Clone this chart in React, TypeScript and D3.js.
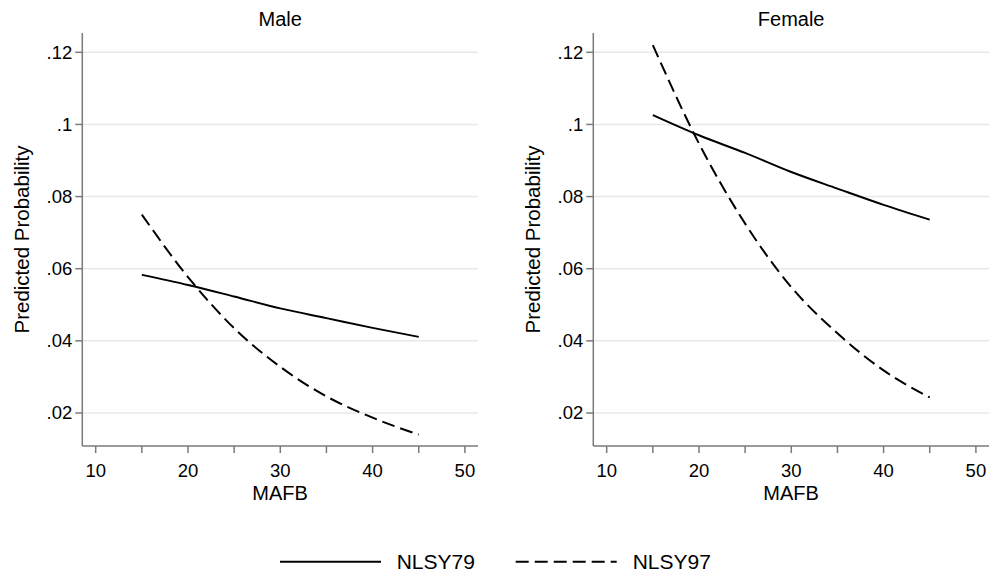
import React from "react";
import * as d3 from "d3";

const ages = [15, 20, 25, 30, 35, 40, 45];

const maleNLSY79 = [0.0583, 0.0555, 0.0523, 0.049, 0.0463, 0.0436, 0.0411];
const maleNLSY97 = [0.075, 0.0577, 0.0435, 0.0328, 0.0246, 0.0187, 0.014];
const femaleNLSY79 = [0.1026, 0.097, 0.0921, 0.0868, 0.0822, 0.0777, 0.0736];
const femaleNLSY97 = [0.122, 0.0947, 0.0725, 0.0549, 0.0421, 0.0318, 0.0243];

const xTicks = [10, 20, 30, 40, 50];
const xMinorTicks = [15, 25, 35, 45];
const yTicks = [0.02, 0.04, 0.06, 0.08, 0.1, 0.12];
const yTickLabels = [".02", ".04", ".06", ".08", ".1", ".12"];

const panels = [
  { title: "Male", left: 82.3, s79: maleNLSY79, s97: maleNLSY97 },
  { title: "Female", left: 593.3, s79: femaleNLSY79, s97: femaleNLSY97 },
];

const FONT = "'Liberation Sans', Arial, Helvetica, sans-serif";
const top = 33;
const bottom = 446;
const plotW = 395.7;
const axisColor = "#7a7a7a";
const DASH = "13 6";

const y = d3.scaleLinear().domain([0.01085, 0.12535]).range([bottom, top]);

const Panel = ({ p }) => {
  const x = d3
    .scaleLinear()
    .domain([8.55, 51.42])
    .range([p.left, p.left + plotW]);
  const line = d3
    .line()
    .x((d) => x(d[0]))
    .y((d) => y(d[1]))
    .curve(d3.curveMonotoneX);
  const d79 = line(ages.map((a, i) => [a, p.s79[i]]));
  const d97 = line(ages.map((a, i) => [a, p.s97[i]]));
  const cx = p.left + plotW / 2;

  return (
    <g>
      {yTicks.map((t) => (
        <line
          key={"g" + t}
          x1={p.left}
          x2={p.left + plotW}
          y1={y(t)}
          y2={y(t)}
          stroke="#e8e8e8"
          strokeWidth={1.5}
        />
      ))}
      <path d={d79} fill="none" stroke="#000" strokeWidth={2} />
      <path
        d={d97}
        fill="none"
        stroke="#000"
        strokeWidth={2}
        strokeDasharray={DASH}
      />
      <line x1={p.left} x2={p.left} y1={top} y2={bottom} stroke={axisColor} strokeWidth={1.5} />
      <line x1={p.left} x2={p.left + plotW} y1={bottom} y2={bottom} stroke={axisColor} strokeWidth={1.5} />
      {yTicks.map((t, i) => (
        <g key={"y" + t}>
          <line x1={p.left - 7} x2={p.left} y1={y(t)} y2={y(t)} stroke={axisColor} strokeWidth={1.5} />
          <text
            x={p.left - 10}
            y={y(t)}
            dy="0.35em"
            textAnchor="end"
            fontSize={18.5}
            fontFamily={FONT}
          >
            {yTickLabels[i]}
          </text>
        </g>
      ))}
      {xMinorTicks.map((t) => (
        <line key={"m" + t} x1={x(t)} x2={x(t)} y1={bottom} y2={bottom + 7} stroke={axisColor} strokeWidth={1.5} />
      ))}
      {xTicks.map((t) => (
        <g key={"x" + t}>
          <line x1={x(t)} x2={x(t)} y1={bottom} y2={bottom + 7} stroke={axisColor} strokeWidth={1.5} />
          <text x={x(t)} y={477} textAnchor="middle" fontSize={18.5} fontFamily={FONT}>
            {t}
          </text>
        </g>
      ))}
      <text x={cx} y={500} textAnchor="middle" fontSize={20} fontFamily={FONT}>
        MAFB
      </text>
      <text x={cx} y={26} textAnchor="middle" fontSize={20} fontFamily={FONT}>
        {p.title}
      </text>
      <text
        transform={`translate(${p.left - 53},${(top + bottom) / 2}) rotate(-90)`}
        textAnchor="middle"
        fontSize={20.5}
        fontFamily={FONT}
      >
        Predicted Probability
      </text>
    </g>
  );
};

export default function App() {
  return (
    <svg
      width={989}
      height={577}
      style={{ position: "absolute", left: 0, top: 0, background: "#fff" }}
    >
      <rect width={989} height={577} fill="#fff" />
      {panels.map((p) => (
        <Panel key={p.title} p={p} />
      ))}
      <line x1={280} x2={381} y1={561.7} y2={561.7} stroke="#000" strokeWidth={2} />
      <text x={396.7} y={569.3} fontSize={21} fontFamily={FONT}>
        NLSY79
      </text>
      <line
        x1={515.7}
        x2={616.7}
        y1={561.7}
        y2={561.7}
        stroke="#000"
        strokeWidth={2}
        strokeDasharray={DASH}
      />
      <text x={632.7} y={569.3} fontSize={21} fontFamily={FONT}>
        NLSY97
      </text>
    </svg>
  );
}
